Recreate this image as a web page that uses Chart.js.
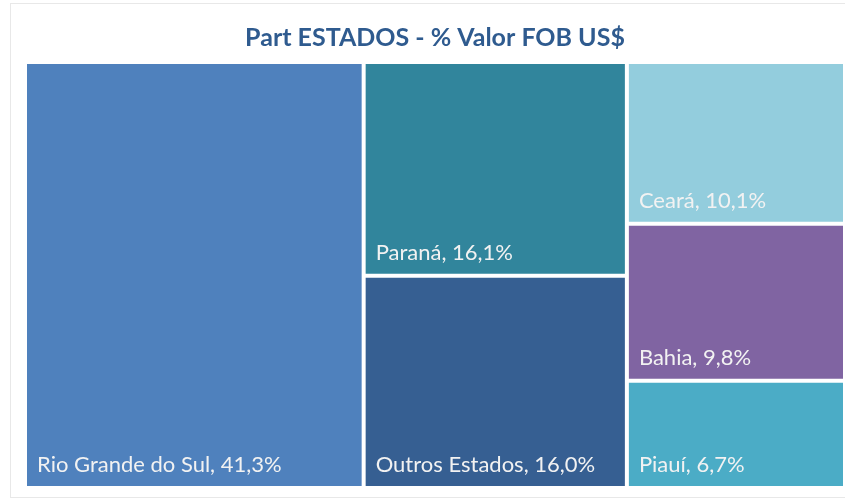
<!DOCTYPE html>
<html>
<head>
<meta charset="utf-8">
<script src="https://cdn.jsdelivr.net/npm/chart.js@4.4.1/dist/chart.umd.min.js"></script>
<style>
  html, body { margin: 0; padding: 0; background: #fff; }
  #wrap { width: 845px; height: 500px; }
</style>
</head>
<body>
<div id="wrap"><canvas id="mycanvas" width="845" height="500"></canvas></div>
<script>
// data, sorted from largest to smallest share
var estados = ['Rio Grande do Sul', 'Paraná', 'Outros Estados', 'Ceará', 'Bahia', 'Piauí'];
var participacao = [41.3, 16.1, 16.0, 10.1, 9.8, 6.7];
var cores = ['#4f81bd', '#31859c', '#365f92', '#93cddd', '#8064a2', '#4bacc6'];

// squarified layout in pixel space
function worst(row, side) {
	var s = 0, mx = -Infinity, mn = Infinity;
	row.forEach(function(r){ s += r; mx = Math.max(mx, r); mn = Math.min(mn, r); });
	return Math.max(side * side * mx / (s * s), (s * s) / (side * side * mn));
}

function squarify(vals, x, y, w, h) {
	var total = vals.reduce(function(a, b){ return a + b; }, 0);
	var areas = vals.map(function(v){ return v / total * w * h; });
	var boxes = [];
	var i = 0;
	while (i < areas.length) {
		var side = Math.min(w, h);
		var row = [areas[i]];
		var j = i + 1;
		while (j < areas.length && worst(row.concat([areas[j]]), side) <= worst(row, side)) {
			row.push(areas[j]);
			j++;
		}
		var rowSum = row.reduce(function(a, b){ return a + b; }, 0);
		if (w >= h) {
			var cw = rowSum / h, cy = y;
			row.forEach(function(a){
				var ch = a / cw;
				boxes.push({x: x, y: cy, w: cw, h: ch});
				cy += ch;
			});
			x += cw; w -= cw;
		} else {
			var rh = rowSum / w, cx = x;
			row.forEach(function(a){
				var rw = a / rh;
				boxes.push({x: cx, y: y, w: rw, h: rh});
				cx += rw;
			});
			y += rh; h -= rh;
		}
		i = j;
	}
	return boxes;
}

class TreemapController extends Chart.DatasetController {
	update(mode) {
		var meta = this._cachedMeta;
		this.updateElements(meta.data, 0, meta.data.length, mode);
	}
	updateElements(rects, start, count, mode) {
		var meta = this._cachedMeta;
		var xs = meta.xScale, ys = meta.yScale;
		var left = xs.getPixelForValue(xs.min), right = xs.getPixelForValue(xs.max);
		var top = ys.getPixelForValue(ys.max), bottom = ys.getPixelForValue(ys.min);
		var vals = this.getDataset().data;
		var boxes = squarify(vals, left, top, right - left, bottom - top);
		for (var i = start; i < start + count; i++) {
			var b = boxes[i];
			this.updateElement(rects[i], i, {
				x: b.x + b.w / 2,
				y: b.y,
				base: b.y + b.h,
				width: b.w,
				height: b.h,
				horizontal: false,
				inflateAmount: 0,
				borderSkipped: {},
				enableBorderRadius: false,
				options: this.resolveDataElementOptions(i, mode)
			}, mode);
		}
	}
}
TreemapController.id = 'treemap';
TreemapController.defaults = { datasetElementType: false, dataElementType: 'bar' };
Chart.register(TreemapController);

var moldura = {
	id: 'moldura',
	beforeDraw: function(chart){
		var ctx = chart.ctx;
		ctx.save();
		ctx.strokeStyle = '#e8e8e8';
		ctx.lineWidth = 1;
		ctx.strokeRect(10.5, 3.5, 840, 494);
		ctx.restore();
	}
};

var rotulos = {
	id: 'rotulos',
	afterDatasetsDraw: function(chart){
		var ctx = chart.ctx;
		var meta = chart.getDatasetMeta(0);
		ctx.save();
		ctx.fillStyle = '#f2f2f2';
		ctx.font = '22px Lato';
		ctx.textAlign = 'left';
		ctx.textBaseline = 'alphabetic';
		meta.data.forEach(function(el, i){
			var left = el.x - el.width / 2 + 2;
			var bottom = el.base - 2;
			var txt = estados[i] + ', ' + participacao[i].toFixed(1).replace('.', ',') + '%';
			ctx.fillText(txt, left + 10, bottom - 14);
		});
		ctx.restore();
	}
};

var ctx = document.getElementById('mycanvas');
var grafico = new Chart(ctx, {
	type: 'treemap',
	data: {
		labels: estados,
		datasets: [{
			data: participacao,
			backgroundColor: cores,
			borderColor: '#ffffff',
			borderWidth: 2
		}]
	},
	options: {
		responsive: false,
		animation: false,
		layout: { padding: { left: 25, right: 0, top: 0, bottom: 12 } },
		scales: {
			x: { type: 'linear', display: false, min: 0, max: 100 },
			y: { type: 'linear', display: false, min: 0, max: 100 }
		},
		plugins: {
			legend: { display: false },
			tooltip: { enabled: false },
			title: {
				display: true,
				text: 'Part ESTADOS - % Valor FOB US$',
				color: '#2f5b8f',
				font: { family: 'Lato', size: 25, weight: 'bold' },
				padding: { top: 23, bottom: 9 }
			}
		}
	},
	plugins: [moldura, rotulos]
});
</script>
</body>
</html>
